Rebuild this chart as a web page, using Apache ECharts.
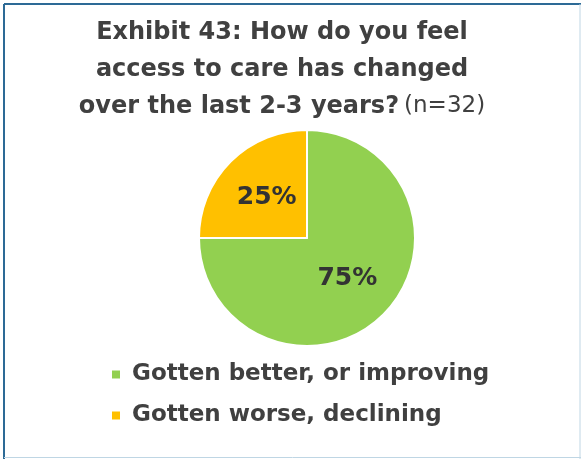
<!DOCTYPE html>
<html>
<head>
<meta charset="utf-8">
<script src="https://cdn.jsdelivr.net/npm/echarts@6/dist/echarts.min.js"></script>
<style>
html,body{margin:0;padding:0;background:#fff;}
#c{width:581px;height:459px;}
</style>
</head>
<body>
<div id="c"></div>
<script>
const categories = ["Gotten better, or improving", "Gotten worse, declining"];
const values = [75, 25];
const colors = ["#92D050", "#FFC000"];
const titleLines = ["Exhibit 43: How do you feel", "access to care has changed", "over the last 2-3 years?"];
const titleNote = "(n=32)";

const chart = echarts.init(document.getElementById('c'));
const font = "'DejaVu Sans', sans-serif";
chart.setOption({
  animation: false,
  title: {
    text: '{b|' + titleLines[0] + '}\n{b|' + titleLines[1] + '}\n{b|' + titleLines[2] + '} {n|' + titleNote + '}',
    left: 277, top: 9, textAlign: 'center',
    textStyle: {
      rich: {
        b: {fontFamily: font, fontWeight: 'bold', fontSize: 24, color: '#404040', lineHeight: 37},
        n: {fontFamily: font, fontWeight: 'normal', fontSize: 23, color: '#404040', lineHeight: 37}
      }
    }
  },
  legend: {
    orient: 'vertical', left: 110, top: 363, padding: 0,
    itemWidth: 10, itemHeight: 10, itemGap: 18, icon: 'rect',
    textStyle: {fontFamily: font, fontWeight: 'bold', fontSize: 23, color: '#404040', padding: [0, 0, 0, 6]},
    data: categories
  },
  graphic: [
    {type: 'line', shape: {x1: 4, y1: 4, x2: 581, y2: 4}, style: {stroke: '#2D6A96', lineWidth: 2}},
    {type: 'line', shape: {x1: 4, y1: 4, x2: 4, y2: 459}, style: {stroke: '#2D6A96', lineWidth: 2}},
    {type: 'line', shape: {x1: 580, y1: 4, x2: 580, y2: 459}, style: {stroke: '#BFD6E4', lineWidth: 1}},
    {type: 'line', shape: {x1: 4, y1: 457.5, x2: 581, y2: 457.5}, style: {stroke: '#BFD6E4', lineWidth: 1}}
  ],
  series: [{
    type: 'pie', center: [307, 238], radius: 108, startAngle: 90, clockwise: true,
    itemStyle: {borderColor: '#fff', borderWidth: 2},
    label: {position: 'inside', formatter: '{d}%', fontFamily: font, fontWeight: 'bold', fontSize: 25, color: '#333'},
    labelLine: {show: false},
    data: categories.map((c, i) => ({name: c, value: values[i], itemStyle: {color: colors[i]}}))
  }]
});
</script>
</body>
</html>
